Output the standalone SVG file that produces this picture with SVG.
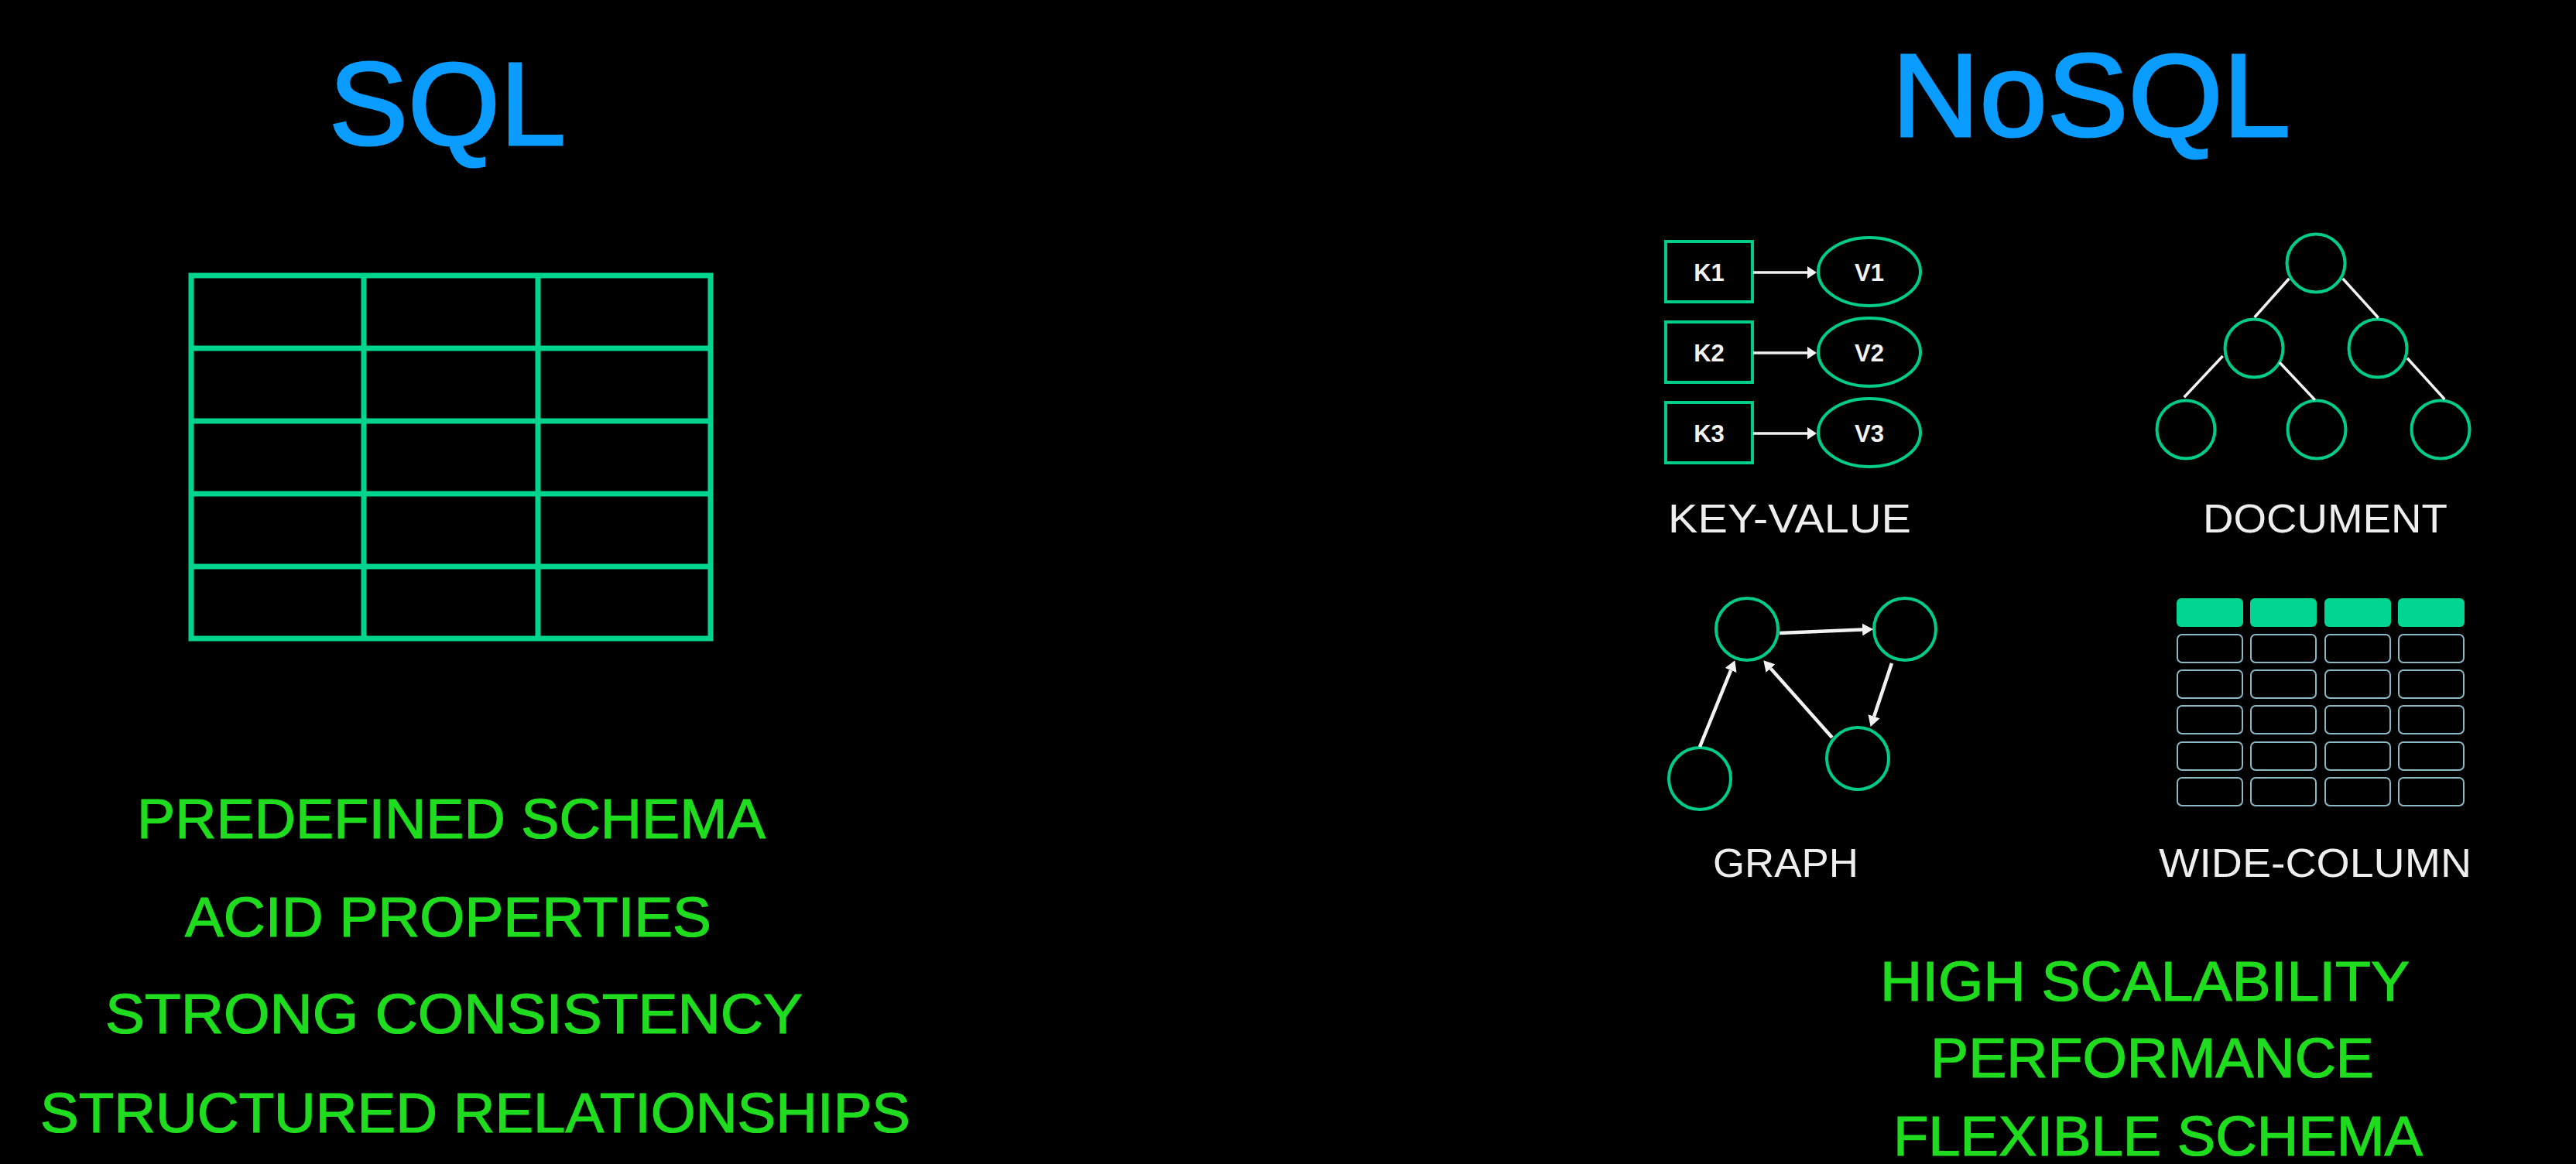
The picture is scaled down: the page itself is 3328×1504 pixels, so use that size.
<svg xmlns="http://www.w3.org/2000/svg" width="3328" height="1504" viewBox="0 0 3328 1504">
  <defs>
    <style>
      .title { font-family: "Liberation Sans", Arial, sans-serif; font-size: 152px; fill: #0a9cff; stroke: #0a9cff; stroke-width: 3; }
      .feat { font-family: "Liberation Sans", Arial, sans-serif; font-size: 73px; fill: #1fdc1f; stroke: #1fdc1f; stroke-width: 1.2; }
      .lbl { font-family: "Liberation Sans", Arial, sans-serif; font-size: 51px; fill: #eeeeee; }
      .kv { font-family: "Liberation Sans", Arial, sans-serif; font-size: 31px; font-weight: bold; fill: #f2f2f2; text-anchor: middle; }
      .grid { fill: none; stroke: #00d48e; stroke-width: 7; }
      .node { fill: none; stroke: #00cc8a; stroke-width: 4; }
      .edge { stroke: #f2f2f2; stroke-width: 3.5; fill: none; }
      .garrow { stroke: #f2f2f2; stroke-width: 4.5; fill: none; }
      .hdr { fill: #00d690; }
      .cell { fill: none; stroke: #8ab8c4; stroke-width: 2; }
    </style>
    <marker id="ahSmall" markerUnits="userSpaceOnUse" viewBox="0 0 12 16" markerWidth="12" markerHeight="16" refX="0" refY="8" orient="auto">
      <path d="M0,0 L12,8 L0,16 z" fill="#f2f2f2"/>
    </marker>
    <marker id="ahBig" markerUnits="userSpaceOnUse" viewBox="0 0 14 16" markerWidth="14" markerHeight="16" refX="0" refY="8" orient="auto">
      <path d="M0,0 L14,8 L0,16 z" fill="#f2f2f2"/>
    </marker>
  </defs>

  <rect x="0" y="0" width="3328" height="1504" fill="#000000"/>

  <!-- Titles -->
  <g id="title-sql">
    <text class="title" x="425" y="187" textLength="306" lengthAdjust="spacingAndGlyphs">SQL</text>
  </g>
  <g id="title-nosql">
    <text class="title" x="2444" y="176" textLength="515" lengthAdjust="spacingAndGlyphs">NoSQL</text>
  </g>

  <!-- SQL table -->
  <g id="sql-table">
    <rect class="grid" x="247" y="356" width="671" height="469"/>
    <line class="grid" x1="470" y1="356" x2="470" y2="825"/>
    <line class="grid" x1="695" y1="356" x2="695" y2="825"/>
    <line class="grid" x1="247" y1="450" x2="918" y2="450"/>
    <line class="grid" x1="247" y1="544" x2="918" y2="544"/>
    <line class="grid" x1="247" y1="638" x2="918" y2="638"/>
    <line class="grid" x1="247" y1="732" x2="918" y2="732"/>
  </g>

  <!-- SQL features -->
  <g id="sql-features">
    <text class="feat" x="177" y="1083" textLength="812" lengthAdjust="spacingAndGlyphs">PREDEFINED SCHEMA</text>
    <text class="feat" x="239" y="1210" textLength="680" lengthAdjust="spacingAndGlyphs">ACID PROPERTIES</text>
    <text class="feat" x="136" y="1335" textLength="901" lengthAdjust="spacingAndGlyphs">STRONG CONSISTENCY</text>
    <text class="feat" x="52" y="1463" textLength="1124" lengthAdjust="spacingAndGlyphs">STRUCTURED RELATIONSHIPS</text>
  </g>

  <!-- Key-Value -->
  <g id="kv-k1">
    <rect class="node" x="2152" y="312" width="112" height="78" stroke-width="3.5"/>
    <text class="kv" x="2208" y="363">K1</text>
  </g>
  <g id="kv-v1">
    <ellipse class="node" cx="2415" cy="351" rx="66" ry="44"/>
    <text class="kv" x="2415" y="363">V1</text>
  </g>
  <g id="kv-k2">
    <rect class="node" x="2152" y="416" width="112" height="78" stroke-width="3.5"/>
    <text class="kv" x="2208" y="467">K2</text>
  </g>
  <g id="kv-v2">
    <ellipse class="node" cx="2415" cy="455" rx="66" ry="44"/>
    <text class="kv" x="2415" y="467">V2</text>
  </g>
  <g id="kv-k3">
    <rect class="node" x="2152" y="520" width="112" height="78" stroke-width="3.5"/>
    <text class="kv" x="2208" y="571">K3</text>
  </g>
  <g id="kv-v3">
    <ellipse class="node" cx="2415" cy="559" rx="66" ry="44"/>
    <text class="kv" x="2415" y="571">V3</text>
  </g>
  <g id="label-kv">
    <text class="lbl" x="2155" y="688" textLength="314" lengthAdjust="spacingAndGlyphs">KEY-VALUE</text>
  </g>

  <!-- Document tree nodes -->
  <g id="doc-root"><circle class="node" cx="2992" cy="340" r="37.5"/></g>
  <g id="doc-mid-left"><circle class="node" cx="2912" cy="450" r="37.5"/></g>
  <g id="doc-mid-right"><circle class="node" cx="3072" cy="450" r="37.5"/></g>
  <g id="doc-bot-left"><circle class="node" cx="2824" cy="555" r="37.5"/></g>
  <g id="doc-bot-mid"><circle class="node" cx="2993" cy="555" r="37.5"/></g>
  <g id="doc-bot-right"><circle class="node" cx="3153" cy="555" r="37.5"/></g>
  <g id="label-doc">
    <text class="lbl" x="2846" y="688" textLength="316" lengthAdjust="spacingAndGlyphs">DOCUMENT</text>
  </g>

  <!-- Graph nodes -->
  <g id="graph-a"><circle class="node" cx="2257" cy="813" r="40"/></g>
  <g id="graph-b"><circle class="node" cx="2461" cy="813" r="40"/></g>
  <g id="graph-c"><circle class="node" cx="2400" cy="980" r="40"/></g>
  <g id="graph-d"><circle class="node" cx="2196" cy="1006" r="40"/></g>
  <g id="label-graph">
    <text class="lbl" x="2213" y="1133" textLength="188" lengthAdjust="spacingAndGlyphs">GRAPH</text>
  </g>

  <!-- Wide column -->
  <g id="wide-column">
    <rect class="hdr" x="2812" y="773" width="86" height="37" rx="6"/>
    <rect class="hdr" x="2907" y="773" width="86" height="37" rx="6"/>
    <rect class="hdr" x="3003" y="773" width="86" height="37" rx="6"/>
    <rect class="hdr" x="3098" y="773" width="86" height="37" rx="6"/>

    <rect class="cell" x="2813" y="820" width="84" height="36" rx="6"/>
    <rect class="cell" x="2908" y="820" width="84" height="36" rx="6"/>
    <rect class="cell" x="3004" y="820" width="84" height="36" rx="6"/>
    <rect class="cell" x="3099" y="820" width="84" height="36" rx="6"/>

    <rect class="cell" x="2813" y="866" width="84" height="36" rx="6"/>
    <rect class="cell" x="2908" y="866" width="84" height="36" rx="6"/>
    <rect class="cell" x="3004" y="866" width="84" height="36" rx="6"/>
    <rect class="cell" x="3099" y="866" width="84" height="36" rx="6"/>

    <rect class="cell" x="2813" y="912" width="84" height="36" rx="6"/>
    <rect class="cell" x="2908" y="912" width="84" height="36" rx="6"/>
    <rect class="cell" x="3004" y="912" width="84" height="36" rx="6"/>
    <rect class="cell" x="3099" y="912" width="84" height="36" rx="6"/>

    <rect class="cell" x="2813" y="959" width="84" height="36" rx="6"/>
    <rect class="cell" x="2908" y="959" width="84" height="36" rx="6"/>
    <rect class="cell" x="3004" y="959" width="84" height="36" rx="6"/>
    <rect class="cell" x="3099" y="959" width="84" height="36" rx="6"/>

    <rect class="cell" x="2813" y="1005" width="84" height="36" rx="6"/>
    <rect class="cell" x="2908" y="1005" width="84" height="36" rx="6"/>
    <rect class="cell" x="3004" y="1005" width="84" height="36" rx="6"/>
    <rect class="cell" x="3099" y="1005" width="84" height="36" rx="6"/>
  </g>
  <g id="label-wide">
    <text class="lbl" x="2789" y="1133" textLength="404" lengthAdjust="spacingAndGlyphs">WIDE-COLUMN</text>
  </g>

  <!-- Connectors -->
  <g id="connectors">
    <line class="edge" x1="2265" y1="352" x2="2335" y2="352" stroke-width="3" marker-end="url(#ahSmall)"/>
    <line class="edge" x1="2265" y1="456" x2="2335" y2="456" stroke-width="3" marker-end="url(#ahSmall)"/>
    <line class="edge" x1="2265" y1="560" x2="2335" y2="560" stroke-width="3" marker-end="url(#ahSmall)"/>

    <line class="edge" x1="2957.3" y1="360" x2="2912.7" y2="410"/>
    <line class="edge" x1="3026.7" y1="360" x2="3072.7" y2="410.7"/>
    <line class="edge" x1="2871.7" y1="460" x2="2821.7" y2="513.3"/>
    <line class="edge" x1="2945" y1="468.3" x2="2990.7" y2="516.7"/>
    <line class="edge" x1="3110" y1="462.7" x2="3158.3" y2="516"/>

    <line class="garrow" x1="2299" y1="818" x2="2406" y2="813.5" marker-end="url(#ahBig)"/>
    <line class="garrow" x1="2444" y1="857" x2="2421.1" y2="925.7" marker-end="url(#ahBig)"/>
    <line class="garrow" x1="2367" y1="953" x2="2287.6" y2="863.7" marker-end="url(#ahBig)"/>
    <line class="garrow" x1="2196" y1="965" x2="2236.1" y2="866.1" marker-end="url(#ahBig)"/>
  </g>

  <!-- NoSQL features -->
  <g id="nosql-features">
    <text class="feat" x="2429" y="1293" textLength="684" lengthAdjust="spacingAndGlyphs">HIGH SCALABILITY</text>
    <text class="feat" x="2494" y="1392" textLength="573" lengthAdjust="spacingAndGlyphs">PERFORMANCE</text>
    <text class="feat" x="2446" y="1493" textLength="684" lengthAdjust="spacingAndGlyphs">FLEXIBLE SCHEMA</text>
  </g>
</svg>
